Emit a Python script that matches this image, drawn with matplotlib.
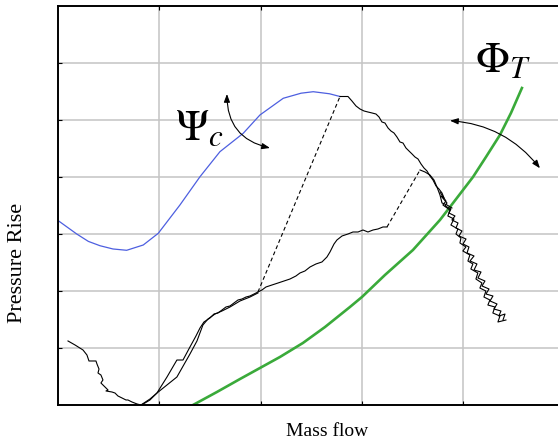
import matplotlib
matplotlib.use("Agg")
import matplotlib.pyplot as plt

plt.rcParams['font.family'] = ['Liberation Serif', 'DejaVu Serif']
plt.rcParams['mathtext.fontset'] = 'stix'

# Compressor characteristic Psi_c (blue)
psi_x = [0.003, 0.185, 0.30, 0.415, 0.543, 0.678, 0.842, 0.990, 1.204, 1.402,
         1.599, 1.829, 1.994, 2.224, 2.400, 2.520, 2.680, 2.784]
psi_y = [3.233, 3.000, 2.870, 2.794, 2.737, 2.714, 2.807, 3.012, 3.509, 4.005,
         4.444, 4.767, 5.088, 5.381, 5.470, 5.496, 5.460, 5.412]

# Throttle characteristic Phi_T (green)
phi_x = [1.333, 1.569, 1.797, 1.994, 2.191, 2.418, 2.636, 2.882, 3.001, 3.228,
         3.504, 3.771, 3.870, 4.097, 4.225, 4.363, 4.472, 4.580]
phi_y = [0.000, 0.228, 0.456, 0.649, 0.842, 1.088, 1.368, 1.719, 1.895, 2.281,
         2.719, 3.246, 3.474, 4.000, 4.351, 4.737, 5.123, 5.561]

# Measured trajectory, stall branch from the peak downwards
stall_x = [2.784, 2.863, 2.902, 2.942, 2.981, 3.021, 3.060, 3.100, 3.139, 3.169,
           3.198, 3.228, 3.258, 3.287, 3.317, 3.346, 3.376, 3.406, 3.435, 3.465,
           3.495, 3.524, 3.554, 3.584, 3.613, 3.643, 3.672, 3.702, 3.732, 3.761,
           3.791, 3.811, 3.781, 3.840, 3.821, 3.879, 3.860, 3.919, 3.889, 3.949,
           3.929, 3.988, 3.959, 4.028, 3.998, 4.057, 4.038, 4.107, 4.067, 4.136,
           4.107, 4.176, 4.146, 4.215, 4.186, 4.255, 4.225, 4.294, 4.265, 4.334,
           4.304, 4.373, 4.353, 4.413, 4.393]
stall_y = [5.412, 5.412, 5.333, 5.246, 5.193, 5.158, 5.140, 5.123, 5.105, 5.053,
           4.965, 4.947, 4.860, 4.807, 4.772, 4.702, 4.614, 4.596, 4.509, 4.456,
           4.404, 4.351, 4.316, 4.228, 4.158, 4.105, 4.018, 3.947, 3.842, 3.789,
           3.719, 3.632, 3.667, 3.544, 3.491, 3.439, 3.368, 3.316, 3.246, 3.193,
           3.105, 3.053, 2.965, 2.912, 2.825, 2.772, 2.667, 2.614, 2.526, 2.474,
           2.368, 2.333, 2.228, 2.175, 2.088, 2.035, 1.947, 1.912, 1.825, 1.772,
           1.684, 1.649, 1.561, 1.596, 1.491]

# Second noisy pass over the lower stall branch
stall2_x = [3.771, 3.830, 3.800, 3.869, 3.849, 3.909, 3.879, 3.948, 3.929, 3.978,
            3.968, 4.027, 3.997, 4.066, 4.047, 4.096, 4.076, 4.145, 4.126, 4.185,
            4.165, 4.224, 4.205, 4.264, 4.244, 4.313, 4.293, 4.363, 4.343, 4.422]
stall2_y = [3.736, 3.578, 3.509, 3.421, 3.316, 3.263, 3.158, 3.088, 3.000, 2.930,
            2.842, 2.772, 2.702, 2.631, 2.526, 2.474, 2.386, 2.316, 2.210, 2.140,
            2.052, 2.000, 1.894, 1.842, 1.754, 1.719, 1.614, 1.561, 1.456, 1.491]

# Second pass joining the stall branch after the small jump
rejoin_x = [3.574, 3.623, 3.672, 3.712, 3.741, 3.771, 3.791, 3.840, 3.889]
rejoin_y = [4.123, 4.088, 4.035, 3.947, 3.825, 3.684, 3.544, 3.509, 3.456]

# Recovery trajectory (low flow, back up the characteristic)
rec_x = [0.099, 0.168, 0.247, 0.286, 0.306, 0.336, 0.375, 0.385, 0.405, 0.395,
         0.424, 0.444, 0.424, 0.464, 0.494, 0.474, 0.533, 0.563, 0.592, 0.632,
         0.671, 0.691, 0.730, 0.780, 0.819, 0.859, 0.908, 0.977, 1.076, 1.174,
         1.234, 1.303, 1.362, 1.402, 1.441, 1.500, 1.540, 1.579, 1.619, 1.658,
         1.698, 1.737, 1.777, 1.816, 1.856, 1.895, 1.935, 1.974, 2.014, 2.053,
         2.112, 2.172, 2.231, 2.290, 2.349, 2.389, 2.438, 2.488, 2.547, 2.606,
         2.655, 2.685, 2.725, 2.754, 2.804, 2.863, 2.912, 2.962, 3.011, 3.060,
         3.110, 3.159, 3.208, 3.248]
rec_y = [1.123, 1.053, 0.965, 0.877, 0.772, 0.772, 0.772, 0.719, 0.631, 0.561,
         0.526, 0.439, 0.386, 0.316, 0.263, 0.246, 0.228, 0.210, 0.158, 0.123,
         0.088, 0.088, 0.053, 0.018, 0.000, 0.035, 0.088, 0.210, 0.491, 0.789,
         0.789, 1.018, 1.210, 1.351, 1.456, 1.526, 1.596, 1.614, 1.666, 1.719,
         1.737, 1.789, 1.842, 1.859, 1.894, 1.912, 1.947, 1.982, 2.018, 2.070,
         2.105, 2.140, 2.175, 2.210, 2.263, 2.316, 2.351, 2.421, 2.474, 2.509,
         2.596, 2.684, 2.825, 2.895, 2.965, 3.000, 3.035, 3.035, 3.070, 3.035,
         3.070, 3.088, 3.123, 3.123]

# Parallel pass on the rising part
rec2_x = [0.819, 0.908, 0.977, 1.174, 1.303, 1.372, 1.431, 1.481, 1.550, 1.619,
          1.698, 1.796, 1.895, 1.974]
rec2_y = [0.000, 0.105, 0.210, 0.491, 0.895, 1.123, 1.404, 1.509, 1.596, 1.649,
          1.719, 1.824, 1.894, 1.965]

# Jumps (dashed)
jump1_x = [1.974, 2.784]
jump1_y = [1.982, 5.412]
jump2_x = [3.248, 3.574]
jump2_y = [3.123, 4.123]

fig = plt.figure(figsize=(5.58, 4.43), dpi=100)
ax = fig.add_axes([0.1039, 0.0858, 0.9077, 0.9007])

ax.plot(psi_x, psi_y, color='#4d5fe0', lw=0.9)
ax.plot(phi_x, phi_y, color='#3aaa3a', lw=1.9)
ax.plot(stall_x, stall_y, color='black', lw=0.8)
ax.plot(stall2_x, stall2_y, color='black', lw=0.8)
ax.plot(rejoin_x, rejoin_y, color='black', lw=0.8)
ax.plot(rec_x, rec_y, color='black', lw=0.8)
ax.plot(rec2_x, rec2_y, color='black', lw=0.8)
ax.plot(jump1_x, jump1_y, color='black', lw=0.8, dashes=(3.5, 2.5))
ax.plot(jump2_x, jump2_y, color='black', lw=0.8, dashes=(3.5, 2.5))

ax.text(1.155, 4.649, r'$\Psi_c$', fontsize=32, ha='left', va='baseline')
ax.text(4.117, 5.842, r'$\Phi_T$', fontsize=32, ha='left', va='baseline')

arrow = dict(arrowstyle='<|-|>,head_length=0.4,head_width=0.15', color='black',
             lw=0.8, shrinkA=0, shrinkB=0, mutation_scale=12)
ax.annotate('', xy=(2.093, 4.509), xytext=(1.668, 5.456),
            arrowprops=dict(arrow, connectionstyle='arc3,rad=0.4'))
ax.annotate('', xy=(4.758, 4.153), xytext=(3.870, 4.988),
            arrowprops=dict(arrow, connectionstyle='arc3,rad=-0.22'))

ax.set_xlim(0, 5)
ax.set_ylim(0, 7)
ax.set_xticks([1, 2, 3, 4])
ax.set_yticks([1, 2, 3, 4, 5, 6])
ax.tick_params(direction='in', length=3, width=0.8, labelbottom=False,
               labelleft=False, top=True, right=True)
ax.grid(True, color='#c4c4c4', lw=1.1)
ax.set_axisbelow(True)
for s in ax.spines.values():
    s.set_linewidth(1.4)

fig.text(0.587, 0.025, 'Mass flow', fontsize=14, ha='center', va='center')
fig.text(0.032, 0.406, 'Pressure Rise', fontsize=16, ha='center', va='center',
         rotation=90)

fig.savefig('out.png', dpi=100)
